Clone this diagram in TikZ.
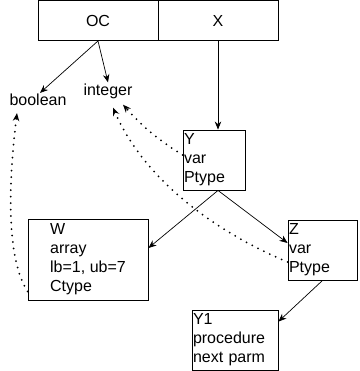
\documentclass[tikz,border=0pt]{standalone}
\usepackage{fontspec}
\setmainfont{Liberation Sans}
\usepackage{xcolor}
\usetikzlibrary{arrows.meta}

\begin{document}
\begin{tikzpicture}[x=1pt, y=-1pt,
	box/.style={draw, line width=.9pt, inner sep=1pt, align=left, minimum height=60pt},
	lbl/.style={inner sep=1pt},
	ptr/.style={-{Stealth[length=8pt,width=6.5pt]}, line width=.7pt},
	dots/.style={ptr, line width=2pt, line cap=round, dash pattern=on 0pt off 6.5pt}]
	\fontsize{16}{19}\selectfont
	\useasboundingbox (0,0) rectangle (359,371);

	% record at the top
	\node[box, minimum width=120pt, minimum height=40pt] (oc) at (98,20.5) {OC};
	\node[box, minimum width=120pt, minimum height=40pt] (x) at (218,20.5) {X};

	\node[lbl] (bool) at (38,100) {boolean};
	\node[lbl] (int) at (108,91) {integer};

	% symbol entries
	\node[box, text width=60pt] (y) at (214,160) {Y\\var\\Ptype};
	\node[box, minimum width=120pt, minimum height=81pt] (w) at (88,259.5) {W\\array\\lb=1, ub=7\\Ctype};
	\node[box, text width=67pt] (z) at (322.5,250) {Z\\var\\Ptype};
	\node[box, text width=84pt] (y1) at (235,340) {Y1\\procedure\\next parm};

	\draw[ptr] (oc.south) -- ([xshift=2pt]bool.north);
	\draw[ptr] (oc.south) -- (int.north);
	\draw[ptr] (x.south) -- (x.south |- y.north);
	\draw[ptr] ([xshift=4pt]y.south) -- ([yshift=11.5pt]w.east);
	\draw[ptr] ([xshift=4pt]y.south) -- ([yshift=7pt]z.west);
	\draw[ptr] (z.south) -- ([yshift=-12pt]y1.north east);

	% type links
	\draw[dots] ([yshift=9pt]w.south west) .. controls (4,255) and (10,170) .. ([xshift=-21pt,yshift=-6pt]bool.south);
	\draw[dots] ([yshift=5pt]y.west) to[bend left=8] ([xshift=15pt,yshift=-5pt]int.south);
	\draw[dots] ([yshift=-12pt]z.west) .. controls (200,225) and (140,170) .. ([xshift=5pt,yshift=-8pt]int.south);
\end{tikzpicture}
\end{document}
